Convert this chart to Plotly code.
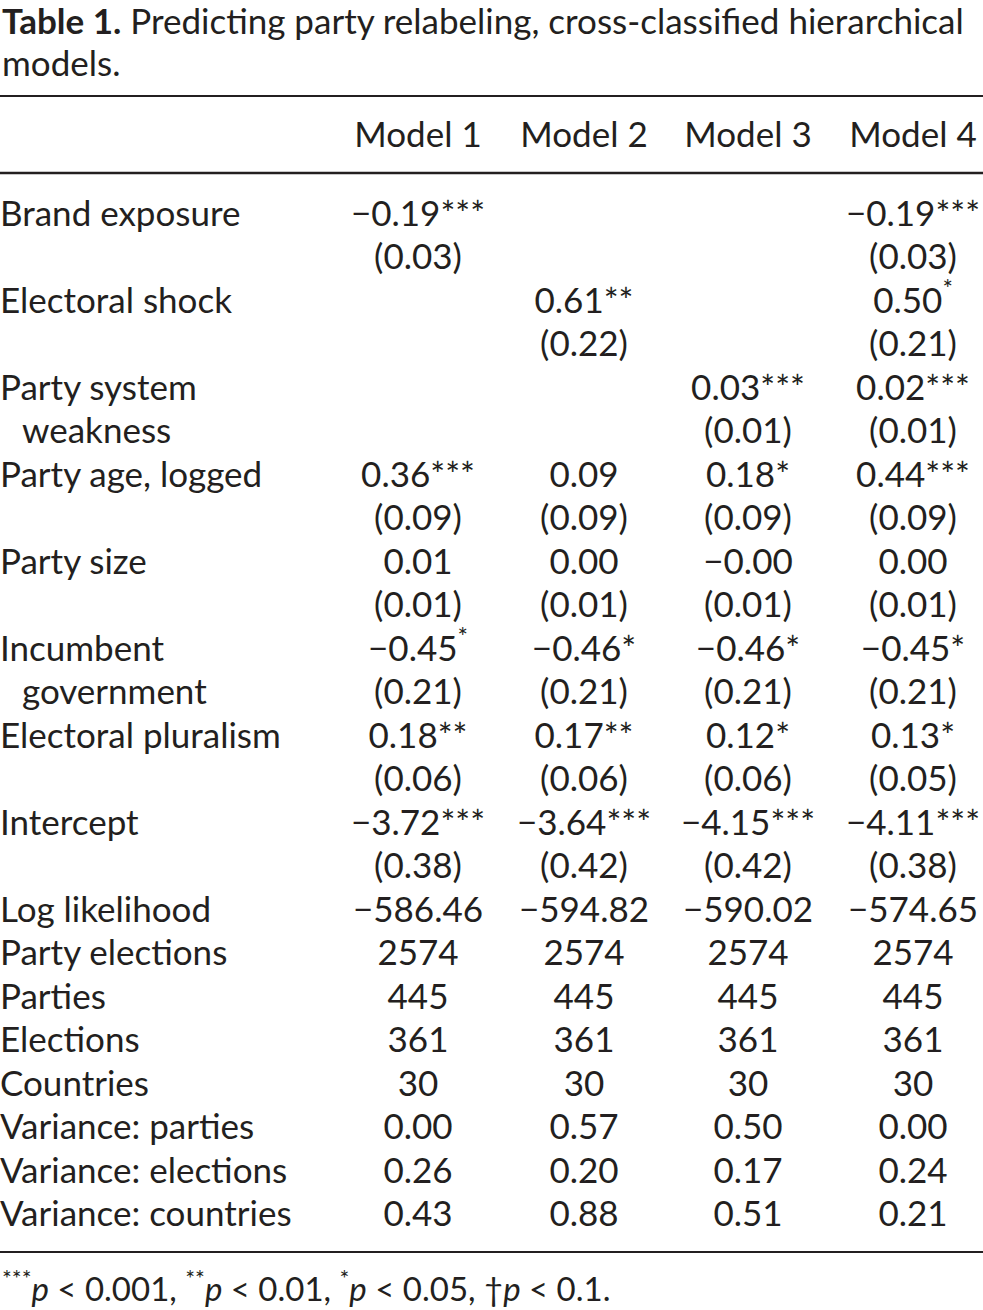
import plotly.graph_objects as go

# table content
models = ["Model 1", "Model 2", "Model 3", "Model 4"]
variables = ["Brand exposure", "Electoral shock", "Party system|weakness", "Party age, logged",
             "Party size", "Incumbent|government", "Electoral pluralism", "Intercept"]

coef_m1 = ["−0.19***", "", "", "0.36***", "0.01", "−0.45<sup>*</sup>", "0.18**", "−3.72***"]
se_m1 = ["(0.03)", "", "", "(0.09)", "(0.01)", "(0.21)", "(0.06)", "(0.38)"]
coef_m2 = ["", "0.61**", "", "0.09", "0.00", "−0.46*", "0.17**", "−3.64***"]
se_m2 = ["", "(0.22)", "", "(0.09)", "(0.01)", "(0.21)", "(0.06)", "(0.42)"]
coef_m3 = ["", "", "0.03***", "0.18*", "−0.00", "−0.46*", "0.12*", "−4.15***"]
se_m3 = ["", "", "(0.01)", "(0.09)", "(0.01)", "(0.21)", "(0.06)", "(0.42)"]
coef_m4 = ["−0.19***", "0.50<sup>*</sup>", "0.02***", "0.44***", "0.00", "−0.45*", "0.13*", "−4.11***"]
se_m4 = ["(0.03)", "(0.21)", "(0.01)", "(0.09)", "(0.01)", "(0.21)", "(0.05)", "(0.38)"]

stat_labels = ["Log likelihood", "Party elections", "Parties", "Elections", "Countries",
               "Variance: parties", "Variance: elections", "Variance: countries"]
stats_m1 = ["−586.46", "2574", "445", "361", "30", "0.00", "0.26", "0.43"]
stats_m2 = ["−594.82", "2574", "445", "361", "30", "0.57", "0.20", "0.88"]
stats_m3 = ["−590.02", "2574", "445", "361", "30", "0.50", "0.17", "0.51"]
stats_m4 = ["−574.65", "2574", "445", "361", "30", "0.00", "0.24", "0.21"]

title_1 = "<b>Table 1.</b> Predicting party relabeling, cross-classified hierarchical"
title_2 = "models."
note = ("<sup>***</sup><i>p</i> &lt; 0.001, <sup>**</sup><i>p</i> &lt; 0.01, "
        "<sup>*</sup><i>p</i> &lt; 0.05, †<i>p</i> &lt; 0.1.")

# layout in pixel units
W, H = 983, 1310
FONT = "Lato"
INK = "#231f20"
FS = 35
col_x = [418, 584, 748, 913]
first_line, step = 217, 43.5


def line_y(i):
    return first_line + step * i


fig = go.Figure()

# row labels
lab_x, lab_y, lab_t = [], [], []
for k, v in enumerate(variables):
    parts = v.split("|")
    lab_x.append(0); lab_y.append(line_y(2 * k)); lab_t.append(parts[0])
    if len(parts) > 1:
        lab_x.append(22); lab_y.append(line_y(2 * k + 1)); lab_t.append(parts[1])
for j, s in enumerate(stat_labels):
    lab_x.append(0); lab_y.append(line_y(16 + j)); lab_t.append(s)

fig.add_trace(go.Scatter(x=lab_x, y=lab_y, text=lab_t, mode="text", textposition="middle right",
                         textfont=dict(family=FONT, size=FS, color=INK), hoverinfo="skip",
                         cliponaxis=False))

cols = [(coef_m1, se_m1, stats_m1), (coef_m2, se_m2, stats_m2),
        (coef_m3, se_m3, stats_m3), (coef_m4, se_m4, stats_m4)]
for cx, name, (coef, se, st) in zip(col_x, models, cols):
    ys, ts = [line_y(-1.8)], [name]
    for k in range(len(variables)):
        for yy, t in [(line_y(2 * k), coef[k]), (line_y(2 * k + 1), se[k])]:
            if t:
                ys.append(yy); ts.append(t)
    for j, s in enumerate(st):
        ys.append(line_y(16 + j)); ts.append(s)
    fig.add_trace(go.Scatter(x=[cx] * len(ys), y=ys, text=ts, mode="text", textposition="middle center",
                             textfont=dict(family=FONT, size=FS, color=INK), hoverinfo="skip",
                             cliponaxis=False))

# rules
for yy, w in [(96, 2), (173, 2.5), (1252, 2)]:
    fig.add_shape(type="line", x0=0, x1=W, y0=yy, y1=yy, xref="x", yref="y",
                  line=dict(color=INK, width=w))

fig.add_annotation(x=0, y=20, text=title_1, showarrow=False, xanchor="left", yanchor="middle",
                   font=dict(family=FONT, size=35, color=INK))
fig.add_annotation(x=0, y=62, text=title_2, showarrow=False, xanchor="left", yanchor="middle",
                   font=dict(family=FONT, size=35, color=INK))
fig.add_annotation(x=0, y=1286, text=note, showarrow=False, xanchor="left", yanchor="middle",
                   font=dict(family=FONT, size=33, color=INK))

fig.update_layout(width=W, height=H, margin=dict(l=0, r=0, t=0, b=0), showlegend=False,
                  paper_bgcolor="white", plot_bgcolor="white",
                  xaxis=dict(range=[0, W], visible=False, fixedrange=True),
                  yaxis=dict(range=[H, 0], visible=False, fixedrange=True))

fig.write_html("out.html", config={"displayModeBar": False},
               post_script="document.body.style.margin='0';document.body.style.overflow='hidden';")
